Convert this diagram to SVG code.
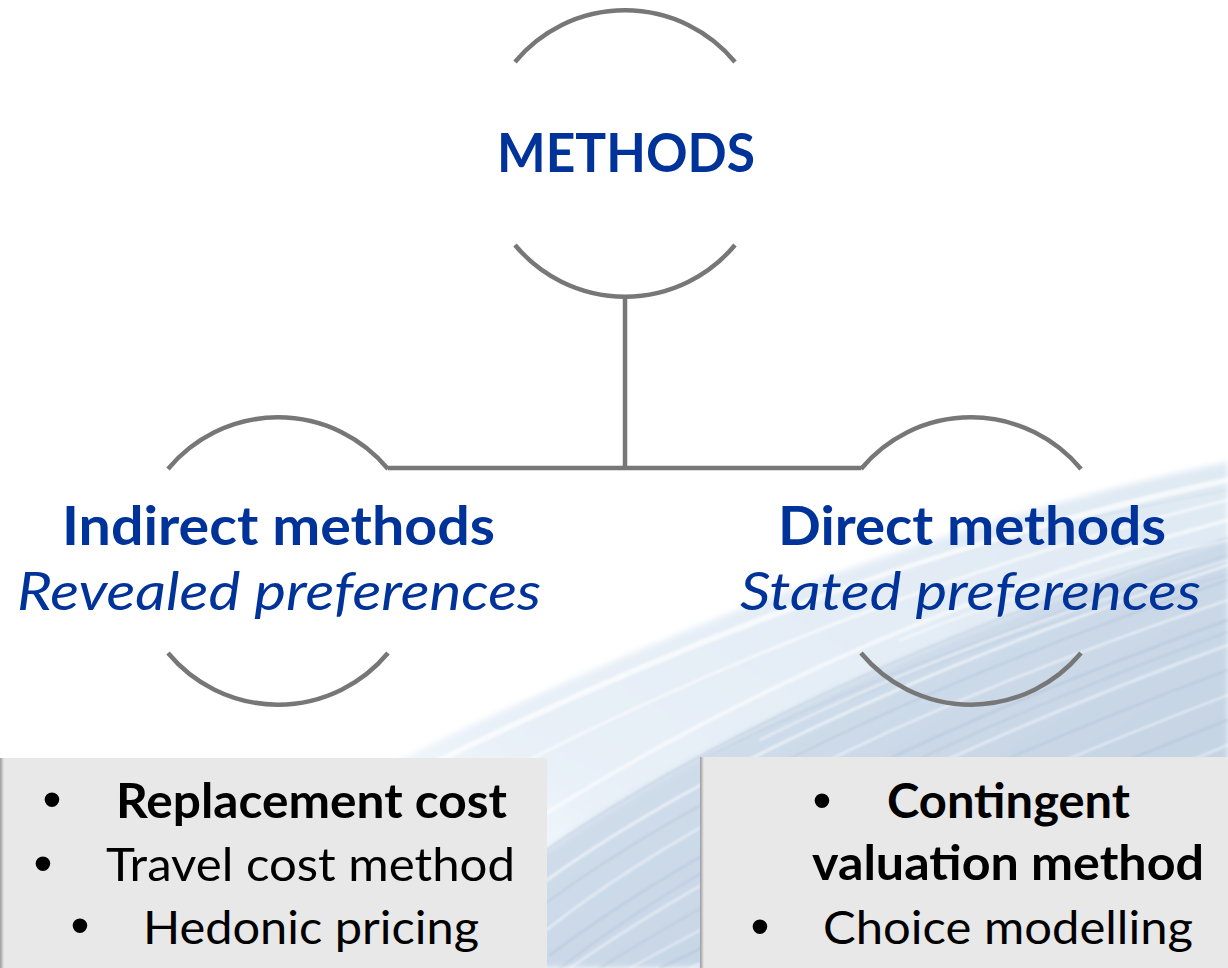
<svg xmlns="http://www.w3.org/2000/svg" width="1228" height="968" viewBox="0 0 1228 968">
  <defs>
    <style>
      .ring { fill: none; stroke: #777777; stroke-width: 4.5; }
      .link { fill: none; stroke: #777777; stroke-width: 4.5; }
      .head { font-family: Lato, "Liberation Sans", sans-serif; font-weight: 700; font-size: 53px; fill: #00339a; }
      .sub { font-family: Lato, "Liberation Sans", sans-serif; font-style: italic; font-size: 53px; fill: #00339a; }
      .item { font-family: Lato, "Liberation Sans", sans-serif; font-size: 47px; fill: #000000; }
      .item-b { font-family: Lato, "Liberation Sans", sans-serif; font-weight: 700; font-size: 47px; fill: #000000; }
      .dot { font-family: "Liberation Sans", sans-serif; font-size: 54px; fill: #000000; text-anchor: middle; }
      .card { fill: #e8e8e8; }
      .streak-w { fill: none; stroke: #ffffff; stroke-linecap: round; }
      .streak-d { fill: none; stroke: #9fb4c9; stroke-linecap: round; }
    </style>
    <linearGradient id="paleWash" x1="0" y1="1" x2="1" y2="0">
      <stop offset="0" stop-color="#eef4fa" stop-opacity="0"/>
      <stop offset="0.3" stop-color="#e8f0f8"/>
      <stop offset="1" stop-color="#dfe9f3"/>
    </linearGradient>
    <linearGradient id="deepWash" x1="0" y1="0" x2="1" y2="1">
      <stop offset="0" stop-color="#dde8f3"/>
      <stop offset="0.5" stop-color="#cbd9e8"/>
      <stop offset="1" stop-color="#bfcfdf"/>
    </linearGradient>
    <linearGradient id="edgeShade" x1="0" y1="0" x2="1" y2="0">
      <stop offset="0" stop-color="#9a9a9a"/>
      <stop offset="1" stop-color="#e8e8e8"/>
    </linearGradient>
    <filter id="soften" x="-5%" y="-5%" width="110%" height="110%">
      <feGaussianBlur stdDeviation="3"/>
    </filter>
    <filter id="softer" x="-5%" y="-5%" width="110%" height="110%">
      <feGaussianBlur stdDeviation="1"/>
    </filter>
  </defs>

  <rect width="1228" height="968" fill="#ffffff"/>

  <!-- feathered backdrop in the lower right -->
  <g id="backdrop">
    <path d="M 380 770 C 600 660, 900 530, 1228 462 L 1228 968 L 380 968 Z" fill="url(#paleWash)" filter="url(#soften)"/>
    <path d="M 500 885 C 620 790, 850 660, 1228 540 L 1228 968 L 500 968 Z" fill="url(#deepWash)" filter="url(#soften)"/>
    <g filter="url(#softer)">
      <path class="streak-w" stroke-width="6" opacity="0.7" d="M 420 770 C 620 670, 900 550, 1228 480"/>
      <path class="streak-w" stroke-width="3" opacity="0.6" d="M 470 790 C 660 690, 920 575, 1228 500"/>
      <path class="streak-w" stroke-width="4" opacity="0.6" d="M 520 830 C 690 720, 930 600, 1228 520"/>
      <path class="streak-d" stroke-width="1.5" opacity="0.4" d="M 505 880 C 630 785, 860 655, 1228 538"/>
      <path class="streak-w" stroke-width="3" opacity="0.55" d="M 520 900 C 650 800, 880 680, 1228 565"/>
      <path class="streak-d" stroke-width="1.5" opacity="0.4" d="M 530 915 C 660 815, 890 695, 1228 580"/>
      <path class="streak-w" stroke-width="2.5" opacity="0.5" d="M 540 935 C 670 830, 900 710, 1228 600"/>
      <path class="streak-d" stroke-width="2" opacity="0.35" d="M 550 955 C 690 850, 920 730, 1228 620"/>
      <path class="streak-w" stroke-width="3" opacity="0.45" d="M 570 968 C 710 870, 940 750, 1228 645"/>
      <path class="streak-d" stroke-width="1.5" opacity="0.4" d="M 600 968 C 740 880, 960 770, 1228 670"/>
      <path class="streak-w" stroke-width="2" opacity="0.5" d="M 630 968 C 770 890, 980 790, 1228 695"/>
      <path class="streak-d" stroke-width="2" opacity="0.35" d="M 660 968 C 800 900, 1000 810, 1228 720"/>
      <path class="streak-w" stroke-width="2.5" opacity="0.45" d="M 690 968 C 830 910, 1020 830, 1228 745"/>
      <path class="streak-d" stroke-width="1.5" opacity="0.35" d="M 560 968 C 700 860, 930 740, 1228 632"/>
      <path class="streak-d" stroke-width="1.2" opacity="0.3" d="M 700 760 C 820 700, 980 635, 1228 555"/>
      <path class="streak-w" stroke-width="2" opacity="0.5" d="M 760 740 C 880 680, 1030 620, 1228 560"/>
      <path class="streak-d" stroke-width="1.2" opacity="0.3" d="M 850 700 C 960 650, 1080 610, 1228 575"/>
      <path class="streak-d" stroke-width="1.2" opacity="0.25" d="M 820 600 C 930 560, 1060 520, 1228 490"/>
      <path class="streak-w" stroke-width="2" opacity="0.5" d="M 900 640 C 1000 600, 1110 565, 1228 540"/>
    </g>
  </g>

  <!-- connectors -->
  <g id="connectors">
    <path class="link" d="M 625 296 L 625 468"/>
    <path class="link" d="M 388 468 L 861 468"/>
  </g>

  <g id="node-methods">
    <path class="ring" d="M 515 62 A 143 143 0 0 1 735 62"/>
    <path class="ring" d="M 515 245 A 143 143 0 0 0 735 245"/>
    <text class="head" x="497" y="172" textLength="258" lengthAdjust="spacingAndGlyphs">METHODS</text>
  </g>

  <g id="node-indirect">
    <path class="ring" d="M 168 469 A 143 143 0 0 1 388 469"/>
    <path class="ring" d="M 168 653 A 143 143 0 0 0 388 653"/>
    <text class="head" x="62" y="545" textLength="433" lengthAdjust="spacingAndGlyphs">Indirect methods</text>
    <text class="sub" x="17" y="610" textLength="524" lengthAdjust="spacingAndGlyphs">Revealed preferences</text>
  </g>

  <g id="node-direct">
    <path class="ring" d="M 861 469 A 143 143 0 0 1 1081 469"/>
    <path class="ring" d="M 861 653 A 143 143 0 0 0 1081 653"/>
    <text class="head" x="778" y="545" textLength="388" lengthAdjust="spacingAndGlyphs">Direct methods</text>
    <text class="sub" x="740" y="610" textLength="461" lengthAdjust="spacingAndGlyphs">Stated preferences</text>
  </g>

  <g id="list-indirect">
    <rect x="0" y="758" width="547" height="210" class="card"/>
    <rect x="0" y="758" width="4" height="210" fill="url(#edgeShade)"/>
    <text class="dot" x="52" y="818">•</text>
    <text class="item-b" x="116" y="818" textLength="391" lengthAdjust="spacingAndGlyphs">Replacement cost</text>
    <text class="dot" x="43" y="882">•</text>
    <text class="item" x="106" y="881" textLength="409" lengthAdjust="spacingAndGlyphs">Travel cost method</text>
    <text class="dot" x="80" y="944">•</text>
    <text class="item" x="143" y="944" textLength="336" lengthAdjust="spacingAndGlyphs">Hedonic pricing</text>
  </g>

  <g id="list-direct">
    <rect x="700" y="757" width="528" height="211" class="card"/>
    <rect x="700" y="757" width="4" height="211" fill="url(#edgeShade)"/>
    <text class="dot" x="822" y="819">•</text>
    <text class="item-b" x="887" y="818" textLength="243" lengthAdjust="spacingAndGlyphs">Contingent</text>
    <text class="item-b" x="812" y="880" textLength="392" lengthAdjust="spacingAndGlyphs">valuation method</text>
    <text class="dot" x="760" y="945">•</text>
    <text class="item" x="823" y="944" textLength="370" lengthAdjust="spacingAndGlyphs">Choice modelling</text>
  </g>
</svg>
